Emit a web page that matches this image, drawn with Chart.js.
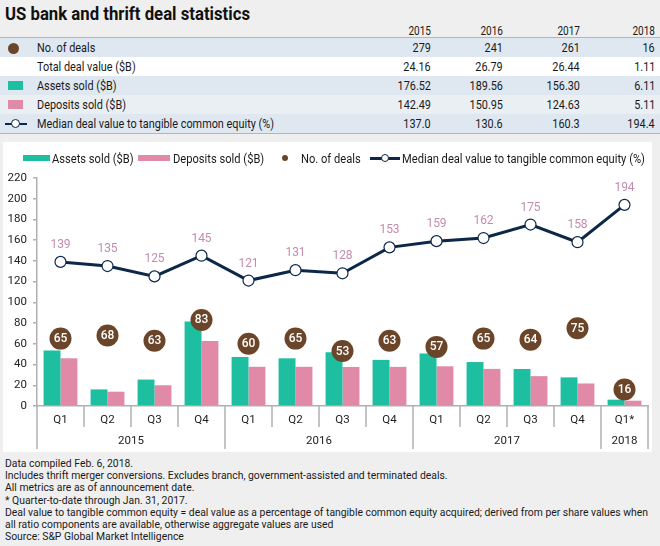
<!DOCTYPE html>
<html>
<head>
<meta charset="utf-8">
<script src="https://cdn.jsdelivr.net/npm/chart.js@4"></script>
<style>
  html, body { margin:0; padding:0; }
  body { width:660px; height:546px; background:#efefef; position:relative; overflow:hidden;
         font-family:"Roboto",sans-serif; color:#1a1a1a; }
  .t { position:absolute; white-space:nowrap; }
  #panel { position:absolute; left:3px; top:142px; width:649px; height:310px; background:#fff; }
  #chartwrap { position:absolute; left:0; top:165px; width:660px; height:290px; }
  #notes { position:absolute; left:5px; top:457px; font-size:11.5px; line-height:12.2px; color:#1a1a1a; white-space:nowrap; transform-origin:left top; }
</style>
</head>
<body>
<div id="panel"></div>
<div id="chartwrap"><canvas id="c" width="660" height="290"></canvas></div>
<div id="page"></div>
<div id="notes">
Data compiled Feb. 6, 2018.<br>
Includes thrift merger conversions. Excludes branch, government-assisted and terminated deals.<br>
All metrics are as of announcement date.<br>
* Quarter-to-date through Jan. 31, 2017.<br>
<span id="longline">Deal value to tangible common equity = deal value as a percentage of tangible common equity acquired; derived from per share values when</span><br>
all ratio components are available, otherwise aggregate values are used<br>
Source: S&amp;P Global Market Intelligence
</div>
<script>
// ---- table data ----
const tableYears = ['2015','2016','2017','2018'];
const tableRowLabels = ['No. of deals','Total deal value ($B)','Assets sold ($B)','Deposits sold ($B)','Median deal value to tangible common equity (%)'];
const tableDeals = ['279','241','261','16'];
const tableTotalValue = ['24.16','26.79','26.44','1.11'];
const tableAssets = ['176.52','189.56','156.30','6.11'];
const tableDeposits = ['142.49','150.95','124.63','5.11'];
const tableMedian = ['137.0','130.6','160.3','194.4'];

// ---- chart data ----
const quarters = ['Q1','Q2','Q3','Q4','Q1','Q2','Q3','Q4','Q1','Q2','Q3','Q4','Q1*'];
const quarterYears = ['2015','2015','2015','2015','2016','2016','2016','2016','2017','2017','2017','2017','2018'];
const assetsSold = [53.5, 16.0, 25.5, 81.5, 47.3, 46.0, 51.8, 44.5, 50.6, 42.4, 35.7, 27.6, 6.11];
const depositsSold = [46.0, 13.8, 20.0, 62.7, 37.8, 37.8, 37.6, 37.75, 38.3, 35.8, 28.8, 21.73, 5.11];
const numDeals = [65, 68, 63, 83, 60, 65, 53, 63, 57, 65, 64, 75, 16];
const medianDealValue = [139, 135, 125, 145, 121, 131, 128, 153, 159, 162, 175, 158, 194];
const yTicks = [0, 20, 40, 60, 80, 100, 120, 140, 160, 180, 200, 220];
const legendLabels = ['Assets sold ($B)','Deposits sold ($B)','No. of deals','Median deal value to tangible common equity (%)'];

const TEAL = '#1ebfa0', PINK = '#e08aa8', BROWN = '#6b4529', NAVY = '#0c2748', LABELPINK = '#c48cae', AXIS = '#b0b0b0';

const mctx = document.createElement('canvas').getContext('2d');
function textW(str, font){ mctx.font = font; return mctx.measureText(str).width; }

const page = document.getElementById('page');
function addBox(x, y, w, h, css){ const d=document.createElement('div'); d.className='t'; d.style.cssText='left:'+x+'px;top:'+y+'px;width:'+w+'px;height:'+h+'px;'+(css||''); page.appendChild(d); return d; }
function addText(str, x, cy, size, weight, scale, align, color){
  const d=document.createElement('div'); d.className='t'; d.textContent=str;
  d.style.fontSize=size+'px'; d.style.fontWeight=weight; d.style.lineHeight=size*1.2+'px';
  d.style.top=(cy - size*0.6)+'px'; d.style.transform='scaleX('+scale+')';
  if (color) d.style.color = color;
  if (align==='right'){ d.style.right=(660-x)+'px'; d.style.transformOrigin='right center'; }
  else { d.style.left=x+'px'; d.style.transformOrigin='left center'; }
  page.appendChild(d); return d;
}

// title
const titleScale = 245 / textW('US bank and thrift deal statistics', 'bold 18px Roboto');
addText('US bank and thrift deal statistics', 5, 14, 18, 'bold', titleScale, 'left', '#111');

// table
const tabScale = 237 / textW(tableRowLabels[4], '13px Roboto');
const colRight = [431, 503, 580, 655];
const rowTops = [38, 57, 76, 95, 114];
const rowBg = ['#dfe8f1','#ffffff','#dfe8f1','#eaeff4','#dfe8f1'];
addBox(0, 37, 660, 1, 'background:#b5b5b5');
tableYears.forEach((y,i)=> addText(y, colRight[i], 31, 12, 'normal', tabScale, 'right'));
const tableRows = [tableDeals, tableTotalValue, tableAssets, tableDeposits, tableMedian];
tableRows.forEach((r,ri)=>{
  addBox(0, rowTops[ri], 660, 19, 'background:'+rowBg[ri]);
  const cy = rowTops[ri] + 9.5;
  addText(tableRowLabels[ri], 37, cy, 13, 'normal', tabScale, 'left');
  r.forEach((v,i)=> addText(v, colRight[i], cy, 13, 'normal', tabScale, 'right'));
});
addBox(0, 133, 660, 1, 'background:#b5b5b5');
// table icons
addBox(8, 42.5, 11, 11, 'border-radius:50%;background:'+BROWN);
addBox(8, 81, 15, 9, 'background:'+TEAL);
addBox(8, 100, 15, 9, 'background:'+PINK);
addBox(5, 122.5, 22, 2.5, 'background:'+NAVY);
addBox(11, 119, 7, 7, 'border-radius:50%;background:#fff;border:1.5px solid '+NAVY);

// legend
const legScale = 243 / textW(legendLabels[3], '12.5px Roboto');
const legY = 158;
addBox(23, legY-3, 27, 6, 'background:'+TEAL);
addText(legendLabels[0], 52, legY, 12.5, 'normal', legScale, 'left');
addBox(138, legY-3, 32, 6, 'background:'+PINK);
addText(legendLabels[1], 173, legY, 12.5, 'normal', legScale, 'left');
addBox(282, legY-3, 6, 6, 'border-radius:50%;background:'+BROWN);
addText(legendLabels[2], 301, legY, 12.5, 'normal', legScale, 'left');
addBox(370, legY-1, 30, 3, 'background:'+NAVY);
addBox(381, legY-4, 6, 6, 'border-radius:50%;background:#fff;border:1.5px solid '+NAVY);
addText(legendLabels[3], 402, legY, 12.5, 'normal', legScale, 'left');

// notes
const notes = document.getElementById('notes');
const noteScale = 643 / document.getElementById('longline').getBoundingClientRect().width;
notes.style.transform = 'scaleX('+noteScale+')';

const labelPlugin = {
  id: 'labels',
  afterDatasetsDraw(chart) {
    const ctx = chart.ctx;
    ctx.save();
    const lm = chart.getDatasetMeta(1);
    ctx.font = '12px Roboto, sans-serif';
    ctx.fillStyle = LABELPINK;
    ctx.textAlign = 'center'; ctx.textBaseline = 'middle';
    lm.data.forEach((p,i)=>{ ctx.fillText(String(medianDealValue[i]), p.x, p.y - 17); });
    const dm = chart.getDatasetMeta(0);
    ctx.font = '500 12px Roboto, sans-serif';
    ctx.fillStyle = '#ffffff';
    dm.data.forEach((p,i)=>{ ctx.fillText(String(numDeals[i]), p.x, p.y + 0.5); });
    ctx.restore();
  },
  afterDraw(chart) {
    const ctx = chart.ctx, xs = chart.scales.x, area = chart.chartArea;
    const n = quarters.length;
    const b = area.bottom;
    ctx.save();
    ctx.strokeStyle = AXIS; ctx.lineWidth = 1.5;
    const bounds = [];
    for (let i = 0; i <= n; i++) {
      let x;
      if (i === 0) x = area.left; else if (i === n) x = area.right;
      else x = (xs.getPixelForValue(i-1) + xs.getPixelForValue(i)) / 2;
      const longLine = (i === 0 || i === n || quarterYears[i] !== quarterYears[i-1]);
      bounds.push(x);
      ctx.beginPath(); ctx.moveTo(x, b); ctx.lineTo(x, b + (longLine ? 43 : 21)); ctx.stroke();
    }
    ctx.fillStyle = '#222'; ctx.font = '11.5px Roboto, sans-serif';
    ctx.textAlign = 'center'; ctx.textBaseline = 'middle';
    let start = 0;
    for (let i = 1; i <= n; i++) {
      if (i === n || quarterYears[i] !== quarterYears[i-1]) {
        ctx.fillText(quarterYears[start], (bounds[start] + bounds[i]) / 2, b + 35);
        start = i;
      }
    }
    ctx.restore();
  }
};

new Chart(document.getElementById('c'), {
  data: {
    labels: quarters,
    datasets: [
      { type:'line', label:'No. of deals', data:numDeals, showLine:false, pointRadius:11, pointHoverRadius:11,
        pointBackgroundColor:BROWN, pointBorderColor:BROWN, pointBorderWidth:0, order:0 },
      { type:'line', label:'Median deal value to tangible common equity (%)', data:medianDealValue,
        borderColor:NAVY, borderWidth:3, pointRadius:5.5, pointBackgroundColor:'#fff', pointBorderColor:NAVY,
        pointBorderWidth:1.2, tension:0, order:1 },
      { type:'bar', label:'Assets sold ($B)', data:assetsSold, backgroundColor:TEAL, categoryPercentage:0.72, barPercentage:1, order:2 },
      { type:'bar', label:'Deposits sold ($B)', data:depositsSold, backgroundColor:PINK, categoryPercentage:0.72, barPercentage:1, order:3 }
    ]
  },
  options: {
    responsive:false, animation:false, maintainAspectRatio:false,
    layout:{ padding:{ top:10.5, right:12, left:0, bottom:0 } },
    plugins:{ legend:{ display:false }, tooltip:{ enabled:false } },
    scales:{
      x:{
        offset:true,
        grid:{ display:false, drawTicks:false },
        border:{ display:true, color:AXIS, width:1.5 },
        ticks:{ color:'#222', font:{ family:'Roboto', size:11.5 }, padding:7, maxRotation:0, autoSkip:false },
        afterFit(s){ s.height = 49; }
      },
      y:{
        min:0, max:220,
        afterBuildTicks(s){ s.ticks = yTicks.map(v=>({value:v})); },
        grid:{ drawOnChartArea:false, drawTicks:true, tickLength:4, color:AXIS, lineWidth:1.5 },
        border:{ display:true, color:AXIS, width:1.5 },
        ticks:{ color:'#222', font:{ family:'Roboto', size:11.5 }, padding:6 },
        afterFit(s){ s.width = 37; }
      }
    }
  },
  plugins:[labelPlugin]
});
</script>
</body>
</html>
